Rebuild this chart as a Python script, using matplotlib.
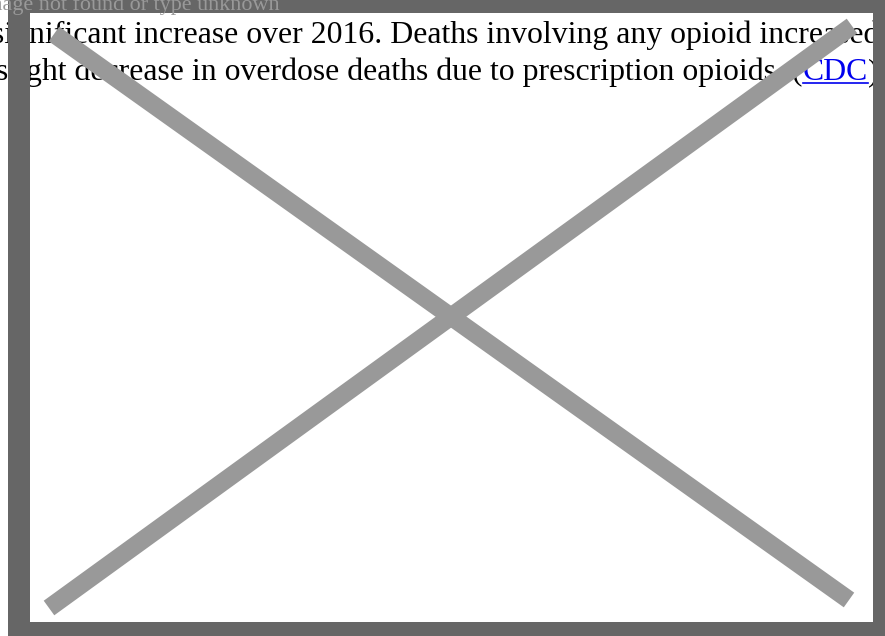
import matplotlib
matplotlib.use("Agg")
import matplotlib.pyplot as plt
from matplotlib.patches import Rectangle
from matplotlib.lines import Line2D

W, H = 885, 636

# text of the page behind the broken image
placeholder_text = "Image not found or type unknown"
line1 = "significant increase over 2016. Deaths involving any opioid increased"
line2_pre = "slight decrease in overdose deaths due to prescription opioids. ("
line2_link = "CDC"
line2_post = ")."

# the cross of the placeholder (pixel coords, top-down)
cross_x = [[54, 849], [852, 49]]
cross_y = [[34, 600], [26, 608]]

FRAME = "#666666"
CROSS = "#999999"


def fx(x):
    return x / W


def fy(y):
    return 1 - y / H


fig = plt.figure(figsize=(W / 100, H / 100), dpi=100)
fig.patch.set_facecolor("white")
renderer = fig.canvas.get_renderer()

serif = ["Liberation Serif", "DejaVu Serif"]


def text_width(s, fs):
    t = fig.text(0, 0, s, fontsize=fs, family=serif)
    w = t.get_window_extent(renderer).width
    t.remove()
    return w


# size so that "n" of "significant" sits at x=29.5 and the last "d" at x=863
span = text_width(line1[:-1], 20) - text_width("sig", 20)
size = 20 * (863 - 29.5) / span
x1 = 29.5 - text_width("sig", size)

fig.text(fx(x1), fy(43), line1, fontsize=size, family=serif, color="black",
         va="baseline", ha="left", zorder=1)

# second line anchored on the link, which starts near x=803
x = 803 - text_width(line2_pre, size)
t = fig.text(fx(x), fy(80), line2_pre, fontsize=size, family=serif, color="black",
             va="baseline", ha="left", zorder=1)
x += t.get_window_extent(renderer).width
t = fig.text(fx(x), fy(80), line2_link, fontsize=size, family=serif, color="#0000EE",
             va="baseline", ha="left", zorder=1)
w = t.get_window_extent(renderer).width
fig.add_artist(Line2D([fx(x), fx(x + w)], [fy(83), fy(83)], color="#0000EE",
                      lw=1.2, transform=fig.transFigure, zorder=1))
x += w
fig.text(fx(x), fy(80), line2_post, fontsize=size, family=serif, color="black",
         va="baseline", ha="left", zorder=1)

# dark frame of the placeholder
for (x0_, y0, x1_, y1) in [(8, 0, 885, 13), (8, 622, 885, 636),
                           (8, 0, 30, 636), (873, 0, 885, 636)]:
    fig.add_artist(Rectangle((fx(x0_), fy(y1)), fx(x1_) - fx(x0_), fy(y0) - fy(y1),
                             transform=fig.transFigure, facecolor=FRAME,
                             edgecolor="none", zorder=2))

ps = 15.9
tw = text_width(placeholder_text, ps)
fig.text(fx(280 - tw), fy(10), placeholder_text, fontsize=ps, family=serif,
         color=CROSS, va="baseline", ha="left", zorder=3)

for xs, ys in zip(cross_x, cross_y):
    fig.add_artist(Line2D([fx(v) for v in xs], [fy(v) for v in ys], color=CROSS,
                          lw=18 * 72 / 100, solid_capstyle="butt",
                          transform=fig.transFigure, zorder=4))

fig.savefig("out.png", dpi=100, facecolor="white")
